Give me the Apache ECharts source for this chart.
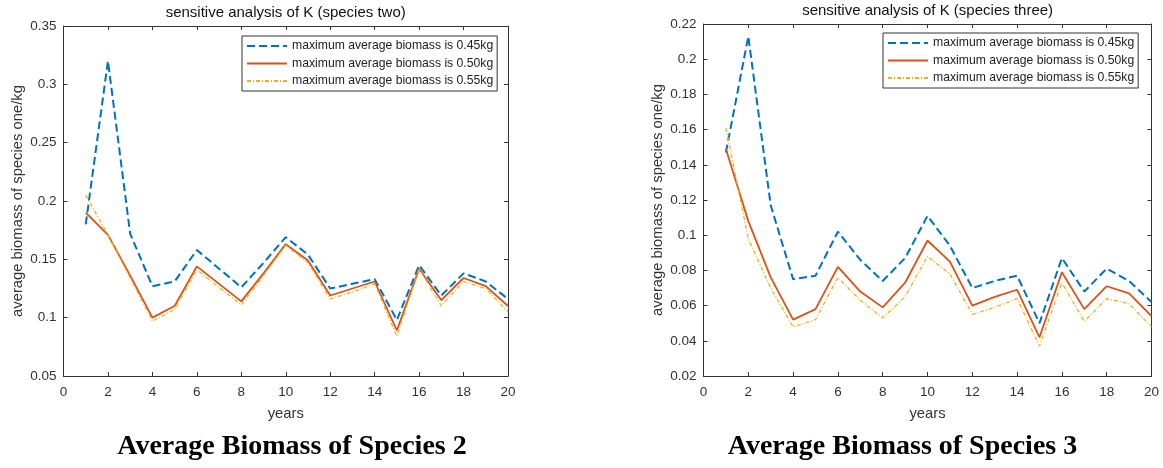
<!DOCTYPE html>
<html><head><meta charset="utf-8">
<script src="https://cdn.jsdelivr.net/npm/echarts@6/dist/echarts.min.js"></script>
<style>html,body{margin:0;padding:0;background:#fff}#c{width:1163px;height:468px}</style>
</head><body><div id="c"></div>
<script>
// ---- data ----
const years = [1,2,3,4,5,6,7,8,9,10,11,12,13,14,15,16,17,18,19,20];
const seriesNames = ['maximum average biomass is 0.45kg','maximum average biomass is 0.50kg','maximum average biomass is 0.55kg'];
const sp2_045 = [0.180,0.320,0.172,0.127,0.131,0.158,0.142,0.126,0.147,0.169,0.154,0.125,0.129,0.133,0.098,0.145,0.119,0.138,0.131,0.116];
const sp2_050 = [0.190,0.171,0.136,0.100,0.110,0.144,0.129,0.114,0.138,0.163,0.149,0.119,0.125,0.131,0.089,0.142,0.115,0.134,0.127,0.110];
const sp2_055 = [0.205,0.171,0.134,0.097,0.107,0.141,0.126,0.111,0.136,0.162,0.147,0.116,0.122,0.129,0.084,0.142,0.110,0.131,0.125,0.105];
const sp3_045 = [0.147,0.213,0.117,0.075,0.077,0.102,0.086,0.074,0.087,0.111,0.094,0.070,0.074,0.077,0.050,0.087,0.068,0.081,0.074,0.062];
const sp3_050 = [0.149,0.108,0.076,0.052,0.058,0.082,0.068,0.059,0.073,0.097,0.085,0.060,0.065,0.069,0.042,0.079,0.058,0.071,0.067,0.054];
const sp3_055 = [0.161,0.098,0.070,0.048,0.052,0.076,0.063,0.053,0.065,0.088,0.078,0.055,0.059,0.064,0.037,0.073,0.051,0.064,0.061,0.048];
const titles = ['sensitive analysis of K (species two)','sensitive analysis of K (species three)'];
const captions = ['Average Biomass of Species 2','Average Biomass of Species 3'];
const xName = 'years';
const yName = 'average biomass of species one/kg';
const xRange = {min:0, max:20, interval:2};
const yRange2 = {min:0.05, max:0.35, interval:0.05};
const yRange3 = {min:0.02, max:0.22, interval:0.02};

// ---- styling ----
const FONT = '"Liberation Sans", Arial, Helvetica, sans-serif';
const SERIF = '"Liberation Serif", "Times New Roman", serif';
const AX = '#333';
const TXT = '#333';
const colors = ['#0072BD','#D95319','#EDB120'];
const lineStyles = [
  {color:colors[0], width:2, type:[8,4]},
  {color:colors[1], width:1.8, type:'solid'},
  {color:colors[2], width:1.3, type:[4,2,1,2]}
];
const grids = [
  {left:63.5, top:26, width:444.5, height:350},
  {left:703.5, top:24, width:448, height:352}
];

function pairs(vals){ return years.map((y,i)=>[y, vals[i]]); }

function mkX(gi, main){
  return Object.assign({
    type:'value', gridIndex:gi, position: main?'bottom':'top',
    name: main? xName : '', nameLocation:'middle', nameGap:30,
    nameTextStyle:{fontFamily:FONT, fontSize:14.8, color:TXT},
    axisLine:{show:true, onZero:false, lineStyle:{color:AX, width:1}},
    axisTick:{show:true, inside:true, length:4, lineStyle:{color:AX}},
    axisLabel:{show:main, margin:9, fontFamily:FONT, fontSize:13.5, color:TXT},
    splitLine:{show:false}
  }, xRange);
}
function mkY(gi, main, range){
  return Object.assign({
    type:'value', gridIndex:gi, position: main?'left':'right',
    name: main? yName : '', nameLocation:'middle', nameGap:38,
    nameTextStyle:{fontFamily:FONT, fontSize:14.8, color:TXT},
    axisLine:{show:true, onZero:false, lineStyle:{color:AX, width:1}},
    axisTick:{show:true, inside:true, length:4, lineStyle:{color:AX}},
    axisLabel:{show:main, margin:7, fontFamily:FONT, fontSize:13.5, color:TXT},
    splitLine:{show:false}
  }, range);
}

const data2 = [sp2_045, sp2_050, sp2_055];
const data3 = [sp3_045, sp3_050, sp3_055];
const series = [];
data2.forEach((d,i)=>series.push({type:'line', name:seriesNames[i], xAxisIndex:0, yAxisIndex:0, data:pairs(d), symbol:'none', showSymbol:false, lineStyle:lineStyles[i], itemStyle:{color:colors[i]}, z:2+i, silent:true}));
data3.forEach((d,i)=>series.push({type:'line', name:seriesNames[i], xAxisIndex:2, yAxisIndex:2, data:pairs(d), symbol:'none', showSymbol:false, lineStyle:lineStyles[i], itemStyle:{color:colors[i]}, z:2+i, silent:true}));

function mkLegend(left, top){
  return {left:left, top:top, orient:'vertical', itemWidth:40, itemHeight:12, itemGap:5.5, padding:[4,4,4,4],
    borderColor:'#333', borderWidth:1, backgroundColor:'#fff', selectedMode:false, z:10,
    itemStyle:{opacity:0, borderWidth:0},
    textStyle:{fontFamily:FONT, fontSize:12.2, color:'#222'}, data:seriesNames};
}

const chart = echarts.init(document.getElementById('c'));
chart.setOption({
  animation:false,
  backgroundColor:'#fff',
  grid:grids,
  xAxis:[mkX(0,true), mkX(0,false), mkX(1,true), mkX(1,false)],
  yAxis:[mkY(0,true,yRange2), mkY(0,false,yRange2), mkY(1,true,yRange3), mkY(1,false,yRange3)],
  legend:[mkLegend(242,36), mkLegend(883,33)],
  series:series,
  graphic:[
    {type:'text', x:285.7, y:12.5, style:{text:titles[0], fontFamily:FONT, fontSize:15, fill:'#111', align:'center', verticalAlign:'middle'}},
    {type:'text', x:927.6, y:11, style:{text:titles[1], fontFamily:FONT, fontSize:15, fill:'#111', align:'center', verticalAlign:'middle'}},
    {type:'text', x:292, y:447, style:{text:captions[0], fontFamily:SERIF, fontWeight:'bold', fontSize:28, fill:'#000', align:'center', verticalAlign:'middle'}},
    {type:'text', x:902.5, y:447, style:{text:captions[1], fontFamily:SERIF, fontWeight:'bold', fontSize:28, fill:'#000', align:'center', verticalAlign:'middle'}}
  ]
});
</script></body></html>
